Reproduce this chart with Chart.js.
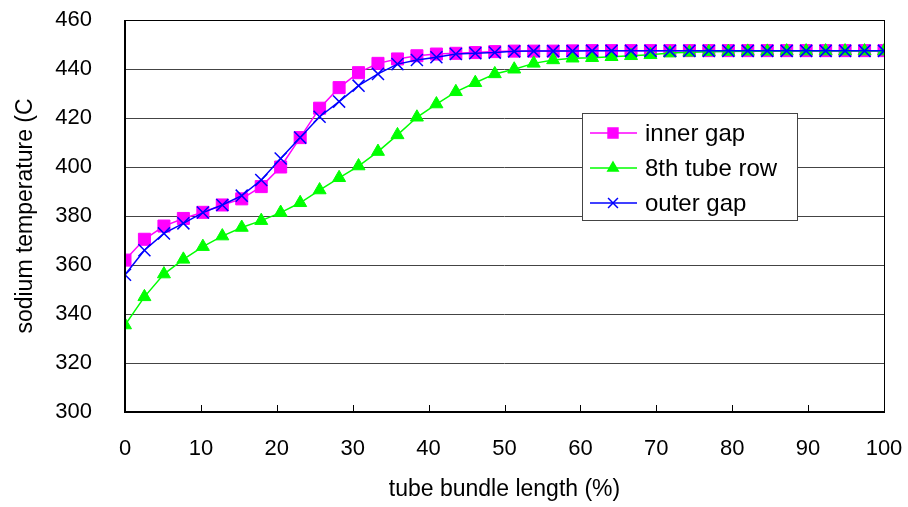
<!DOCTYPE html>
<html>
<head>
<meta charset="utf-8">
<script src="https://cdn.jsdelivr.net/npm/chart.js@4.4.1/dist/chart.umd.min.js"></script>
<style>
html, body { margin: 0; padding: 0; background: #fff; }
#wrap { width: 908px; height: 507px; }
</style>
</head>
<body>
<div id="wrap"><canvas id="tempChart" width="908" height="507"></canvas></div>
<script>
// tube bundle length (%) of each measuring point
var lengths = [0, 2.56, 5.13, 7.69, 10.26, 12.82, 15.38, 17.95, 20.51, 23.08,
    25.64, 28.21, 30.77, 33.33, 35.90, 38.46, 41.03, 43.59, 46.15, 48.72,
    51.28, 53.85, 56.41, 58.97, 61.54, 64.10, 66.67, 69.23, 71.79, 74.36,
    76.92, 79.49, 82.05, 84.62, 87.18, 89.74, 92.31, 94.87, 97.44, 100];

var innerGap = [362, 370.5, 375.9, 379, 381.5, 384.5, 387, 392, 400, 412,
    424, 432.4, 438.5, 442.3, 444.1, 445.4, 446.1, 446.4, 446.7, 447.1,
    447.3, 447.3, 447.3, 447.4, 447.5, 447.5, 447.5, 447.5, 447.5, 447.5,
    447.5, 447.5, 447.5, 447.5, 447.5, 447.5, 447.5, 447.5, 447.5, 447.5];

var tubeRow8 = [335.5, 347, 356.3, 362.3, 367.5, 371.8, 375.3, 378.1, 381.4, 385.4,
    390.6, 395.6, 400.4, 406.3, 413.1, 420.3, 425.7, 430.7, 434.4, 438,
    439.9, 442.3, 443.7, 444.4, 444.6, 445, 445.4, 445.8, 446.5, 446.8,
    447, 447.1, 447.2, 447.2, 447.3, 447.3, 447.3, 447.3, 447.3, 447.3];

var outerGap = [356, 366, 372.9, 377, 381.4, 384.5, 388.3, 394.7, 403.5, 412,
    420.5, 426.7, 433.2, 438, 442, 443.7, 444.8, 446.1, 446.4, 446.7,
    447.2, 447.3, 447.3, 447.3, 447.4, 447.4, 447.4, 447.4, 447.4, 447.4,
    447.4, 447.4, 447.4, 447.4, 447.4, 447.4, 447.4, 447.4, 447.4, 447.4];

var xTicks = [0, 10, 20, 30, 40, 50, 60, 70, 80, 90, 100];
var yTicks = [300, 320, 340, 360, 380, 400, 420, 440, 460];

function toPoints(ys) {
    return ys.map(function (y, i) { return { x: lengths[i], y: y }; });
}

var font = "'Liberation Sans', Arial, sans-serif";

// frame, inside x ticks and the boxed legend
var framePlugin = {
    id: "frame",
    afterDraw: function (chart) {
        var c = chart.ctx, a = chart.chartArea, xs = chart.scales.x;
        c.save();
        c.strokeStyle = "#000";
        c.lineWidth = 1;
        c.strokeRect(a.left + 0.5, a.top + 0.5, a.right - a.left, a.bottom - a.top);
        xTicks.forEach(function (v) {
            var px = Math.round(xs.getPixelForValue(v)) + 0.5;
            c.beginPath();
            c.moveTo(px, a.bottom);
            c.lineTo(px, a.bottom - 7);
            c.stroke();
        });
        c.lineWidth = 2;
        c.beginPath();
        c.moveTo(a.left, a.top);
        c.lineTo(a.left, a.bottom);
        c.lineTo(a.right, a.bottom);
        c.stroke();

        // legend
        var lx = 582, ly = 113, lw = 215, lh = 107;
        c.fillStyle = "#fff";
        c.fillRect(lx, ly, lw, lh);
        c.strokeStyle = "#444";
        c.lineWidth = 1;
        c.strokeRect(lx + 0.5, ly + 0.5, lw, lh);
        chart.data.datasets.forEach(function (ds, i) {
            var cy = ly + 20 + i * 35;
            c.strokeStyle = ds.borderColor;
            c.fillStyle = ds.pointBackgroundColor;
            c.lineWidth = 1.5;
            c.beginPath();
            c.moveTo(lx + 8, cy);
            c.lineTo(lx + 55, cy);
            c.stroke();
            Chart.helpers.drawPoint(c, {
                pointStyle: ds.pointStyle,
                radius: ds.pointRadius - 1.5,
                borderWidth: ds.pointBorderWidth
            }, lx + 31, cy);
            c.fillStyle = "#000";
            c.font = "24px " + font;
            c.textBaseline = "middle";
            c.textAlign = "left";
            c.fillText(ds.label, lx + 63, cy + 1);
        });
        c.restore();
    }
};

var ctx = document.getElementById("tempChart");
var tempChart = new Chart(ctx, {
    type: "line",
    data: {
        datasets: [
            {
                label: "inner gap",
                data: toPoints(innerGap),
                order: 3,
                borderColor: "#ff00ff",
                backgroundColor: "#ff00ff",
                pointBackgroundColor: "#ff00ff",
                pointBorderColor: "#ff00ff",
                pointStyle: "rect",
                pointRadius: 8.5,
                pointBorderWidth: 1,
                borderWidth: 1.5
            },
            {
                label: "8th tube row",
                data: toPoints(tubeRow8),
                order: 2,
                borderColor: "#00ff00",
                backgroundColor: "#00ff00",
                pointBackgroundColor: "#00ff00",
                pointBorderColor: "#00ff00",
                pointStyle: "triangle",
                pointRadius: 7.5,
                pointBorderWidth: 1,
                borderWidth: 1.5
            },
            {
                label: "outer gap",
                data: toPoints(outerGap),
                order: 1,
                borderColor: "#0000ff",
                backgroundColor: "#0000ff",
                pointBackgroundColor: "#0000ff",
                pointBorderColor: "#0000ff",
                pointStyle: "crossRot",
                pointRadius: 8.5,
                pointBorderWidth: 1.5,
                borderWidth: 1.5
            }
        ]
    },
    options: {
        responsive: false,
        animation: false,
        layout: { padding: { top: 20, right: 24, left: 0, bottom: 0 } },
        plugins: {
            legend: { display: false },
            tooltip: { enabled: false }
        },
        scales: {
            x: {
                type: "linear",
                min: 0,
                max: 100,
                afterBuildTicks: function (s) {
                    s.ticks = xTicks.map(function (v) { return { value: v }; });
                },
                afterFit: function (s) {
                    s.height = 95;
                    s.paddingLeft = 0;
                    s.paddingRight = 0;
                },
                grid: { display: false },
                border: { display: false },
                ticks: {
                    padding: 16,
                    color: "#000",
                    font: { family: font, size: 22 },
                    maxRotation: 0
                },
                title: {
                    display: true,
                    text: "tube bundle length (%)",
                    color: "#000",
                    font: { family: font, size: 23 },
                    padding: { top: 0, bottom: 4 }
                }
            },
            y: {
                min: 300,
                max: 460,
                afterBuildTicks: function (s) {
                    s.ticks = yTicks.map(function (v) { return { value: v }; });
                },
                afterFit: function (s) {
                    s.width = 125;
                    s.paddingTop = 0;
                    s.paddingBottom = 0;
                },
                grid: { color: "#444", lineWidth: 1, drawTicks: false },
                border: { display: false },
                ticks: {
                    padding: 33,
                    color: "#000",
                    font: { family: font, size: 22 }
                },
                title: {
                    display: true,
                    text: "sodium temperature (C",
                    color: "#000",
                    font: { family: font, size: 23 },
                    padding: { top: 12, bottom: 0 }
                }
            }
        }
    },
    plugins: [framePlugin]
});
</script>
</body>
</html>
